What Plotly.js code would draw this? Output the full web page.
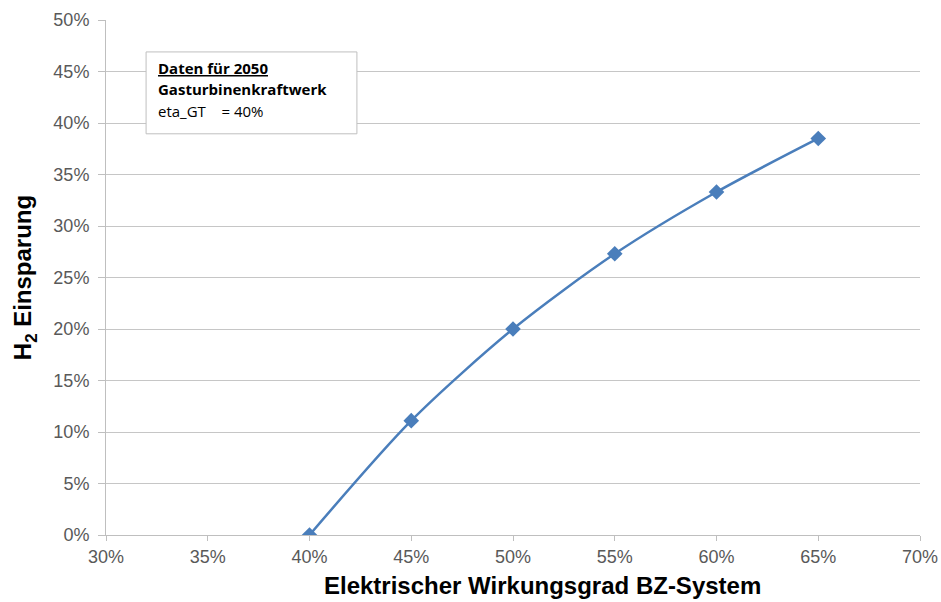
<!DOCTYPE html>
<html>
<head>
<meta charset="utf-8">
<script src="https://cdn.plot.ly/plotly-3.0.1.min.js"></script>
<style>html,body{margin:0;padding:0;background:#fff;}#chart{width:941px;height:602px;}</style>
</head>
<body>
<div id="chart"></div>
<script>
// Data (percent values)
const wirkungsgrad = [40, 45, 50, 55, 60, 65];
const einsparung = [0, 11.1, 20, 27.3, 33.3, 38.5];
const xTicks = [30, 35, 40, 45, 50, 55, 60, 65, 70];
const yTicks = [0, 5, 10, 15, 20, 25, 30, 35, 40, 45, 50];
const boxLines = ['<u><b>Daten für 2050</b></u>', '<b>Gasturbinenkraftwerk</b>', 'eta_GT&nbsp;&nbsp;&nbsp;&nbsp;= 40%'];
const xTitle = 'Elektrischer Wirkungsgrad BZ-System';
const yTitle = 'H<sub>2</sub> Einsparung';

const trace = {
  x: wirkungsgrad,
  y: einsparung,
  type: 'scatter',
  mode: 'lines+markers',
  line: {color: '#4a7ebb', width: 2.5, shape: 'spline', smoothing: 0.8},
  marker: {symbol: 'diamond', size: 12, color: '#4a7ebb'},
  showlegend: false,
  hoverinfo: 'x+y'
};

const tickFont = {family: 'Liberation Sans, Arial, sans-serif', size: 18, color: '#595959'};
const titleFont = {family: 'Liberation Sans, Arial, sans-serif', size: 24, color: '#000000'};
const boxFont = {family: 'Open Sans, sans-serif', size: 15, color: '#000'};
const lineY = [45.35, 43.3, 41.15];

const annotations = boxLines.map((t, i) => ({
  xref: 'x', yref: 'y', x: 32.45, y: lineY[i], xanchor: 'left', yanchor: 'middle',
  text: t, showarrow: false, font: boxFont, align: 'left'
}));
annotations.push({
  xref: 'paper', yref: 'paper', x: 0.536, y: -0.099, xanchor: 'center', yanchor: 'middle',
  text: '<b>' + xTitle + '</b>', showarrow: false, font: titleFont, borderpad: 0
});

const layout = {
  width: 941, height: 602,
  margin: {l: 106, r: 21, t: 20, b: 67},
  paper_bgcolor: '#fff', plot_bgcolor: '#fff',
  xaxis: {
    range: [30, 70], tickvals: xTicks, ticktext: xTicks.map(v => v + '%'),
    showgrid: false, zeroline: false, showline: true, linecolor: '#bfbfbf', linewidth: 1,
    ticks: 'outside', ticklen: 5, tickcolor: '#bfbfbf',
    tickfont: tickFont
  },
  yaxis: {
    range: [0, 50], tickvals: yTicks, ticktext: yTicks.map(v => v + '%'),
    showgrid: true, gridcolor: '#c6c6c6', gridwidth: 1, zeroline: false,
    showline: true, linecolor: '#bfbfbf', linewidth: 1,
    ticks: 'outside', ticklen: 7, tickcolor: '#bfbfbf', ticklabelstandoff: 5,
    tickfont: tickFont,
    title: {text: '<b>' + yTitle + '</b>', font: titleFont, standoff: 14}
  },
  shapes: [
    {type: 'rect', xref: 'x', yref: 'y', x0: 31.97, x1: 42.33, y0: 38.95, y1: 46.9,
     fillcolor: '#ffffff', line: {color: '#bfbfbf', width: 1}, layer: 'above'}
  ],
  annotations: annotations
};

Plotly.newPlot('chart', [trace], layout, {displayModeBar: false, staticPlot: true});
</script>
</body>
</html>
